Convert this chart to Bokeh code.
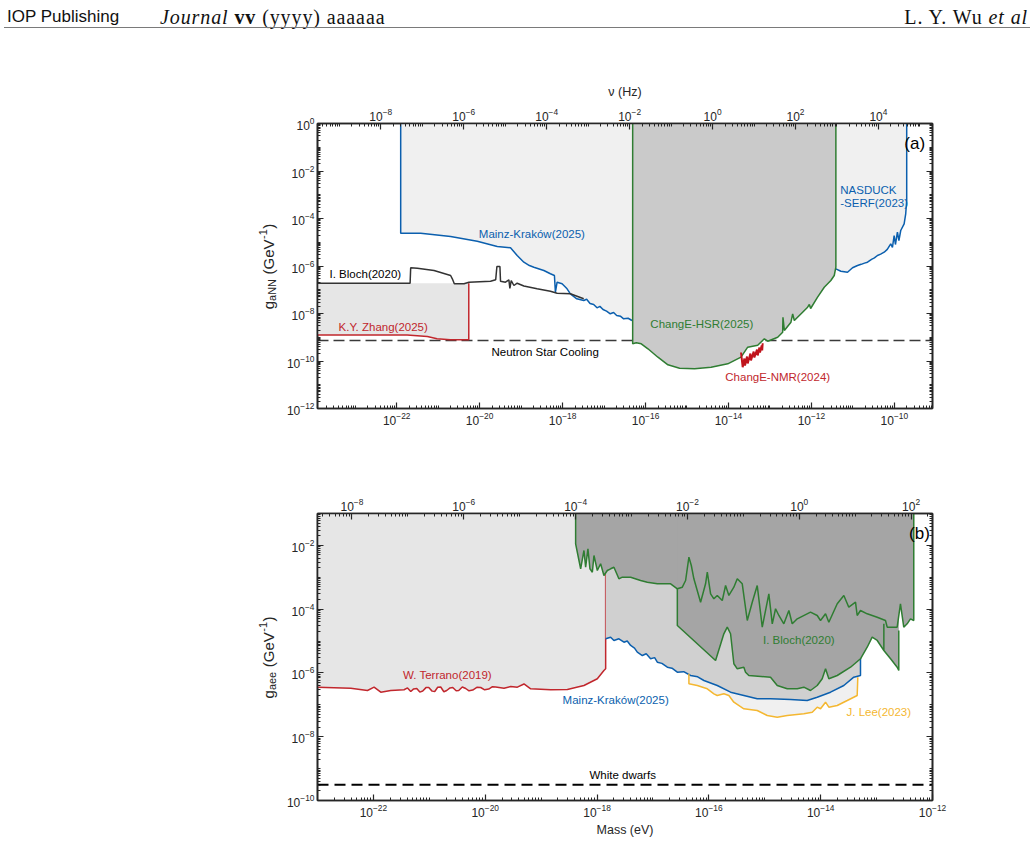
import numpy as np
from bokeh.plotting import figure
from bokeh.models import Range1d, LogScale, LogAxis, FixedTicker, CustomJSTickFormatter, Label, Div
from bokeh.layouts import column
from bokeh.embed import file_html
from bokeh.resources import INLINE

H_EV_S = 4.135667e-15   # eV per Hz (m = h*nu)
LOGH = np.log10(H_EV_S)

# ---------------- panel (a) data : log10 mass [eV], log10 g_aNN [GeV^-1]
a_xlim = (-23.91, -9.08)
a_ylim = (-12.0, 0.0)

mk_a_logm = [-21.904, -21.904, -21.422, -21.141, -20.700, -20.058, -19.576, -19.256, -19.095,
             -18.934, -18.80, -18.693, -18.452, -18.294, -18.197, -18.173, -18.132, -18.012,
             -17.892, -17.812, -17.658, -17.490, -17.42, -17.338, -17.25, -17.170, -17.10,
             -17.025, -16.94, -16.850, -16.77, -16.696, -16.60, -16.527, -16.42, -16.327]
mk_a_logg = [0.0, -4.619, -4.620, -4.674, -4.758, -4.956, -5.179, -5.234, -5.558,
             -5.840, -5.98, -6.051, -6.189, -6.328, -6.400, -7.103, -6.682, -6.749,
             -6.960, -7.171, -7.381, -7.453, -7.40, -7.579, -7.62, -7.760, -7.70,
             -7.832, -7.90, -8.013, -7.96, -8.084, -8.12, -8.223, -8.20, -8.295]

che_logm = [-16.310, -16.310, -16.224, -16.103, -15.942, -15.701, -15.460, -15.179, -14.818,
            -14.419, -14.017, -13.697, -13.536, -13.295, -13.134, -13.054, -12.813, -12.693,
            -12.686, -12.652, -12.493, -12.452, -12.412, -12.212, -12.091, -12.050, -12.019,
            -11.851, -11.690, -11.531, -11.449, -11.410, -11.410]
che_logg = [0.0, -9.276, -9.234, -9.276, -9.486, -9.840, -10.160, -10.303, -10.328,
            -10.261, -10.118, -9.840, -9.419, -9.335, -9.065, -9.166, -8.998, -8.787,
            -8.156, -8.716, -8.366, -8.013, -8.295, -7.945, -7.735, -7.621, -7.789,
            -7.314, -6.893, -6.611, -6.400, -6.051, 0.0]

nas_logm = [-11.410, -11.410, -11.290, -11.129, -11.008, -10.888, -10.80, -10.72, -10.647,
            -10.55, -10.48, -10.407, -10.33, -10.245, -10.17, -10.087, -10.046, -10.005,
            -9.974, -9.926, -9.890, -9.846, -9.764, -9.726, -9.702, -9.702]
nas_logg = [0.0, -6.118, -6.219, -6.261, -6.076, -5.979, -5.93, -5.88, -5.840,
            -5.72, -5.66, -5.558, -5.50, -5.419, -5.30, -5.065, -5.221, -4.716,
            -5.095, -4.577, -4.926, -4.505, -4.223, -3.802, -3.242, 0.0]

kyz_logm = [-23.91, -21.750, -21.261, -21.028, -20.708, -20.262, -20.262]
kyz_logg = [-8.905, -8.905, -8.968, -9.065, -9.107, -9.107, -6.724]

blo_a_logm = [-23.91, -21.677, -21.663, -21.502, -21.100, -20.700, -20.659, -20.611, -20.378,
              -20.258, -19.738, -19.613, -19.584, -19.511, -19.497, -19.377, -19.295, -19.271,
              -19.239, -19.174, -19.095, -18.934, -18.614, -18.294, -18.132, -17.812, -17.490]
blo_a_logg = [-6.724, -6.724, -6.076, -6.093, -6.189, -6.400, -6.539, -6.749, -6.749,
              -6.682, -6.640, -6.581, -6.021, -6.021, -6.640, -6.682, -6.581, -6.947,
              -6.611, -6.821, -6.724, -6.842, -6.960, -7.061, -7.145, -7.171, -7.381]

nmr_logm = [-13.697, -13.657, -13.616, -13.601, -13.553, -13.536, -13.471, -13.457, -13.392,
            -13.375, -13.312, -13.295, -13.254, -13.240, -13.199, -13.187, -13.175]
nmr_logg = [-9.642, -10.261, -9.895, -10.189, -9.811, -10.105, -9.684, -9.979, -9.600,
            -9.853, -9.516, -9.768, -9.432, -9.642, -9.347, -9.558, -9.251]

ns_logg = -9.137

# ---------------- panel (b) data : log10 mass [eV], log10 g_aee [GeV^-1]
b_xlim = (-23.0, -12.0)
b_ylim = (-10.0, -1.0)

ter_logm = [-23.000, -22.405, -22.106, -21.988, -21.868, -21.690, -21.452, -21.39, -21.332,
            -21.28, -21.225, -21.17, -21.118, -21.06, -21.010, -20.95, -20.903, -20.85,
            -20.796, -20.74, -20.689, -20.63, -20.581, -20.52, -20.474, -20.41, -20.349,
            -20.29, -20.224, -20.15, -20.081, -20.01, -19.938, -19.87, -19.813, -19.664,
            -19.544, -19.425, -19.307, -19.187, -18.829, -18.531, -18.234, -17.995, -17.877,
            -17.846, -17.846]
ter_logg = [-6.447, -6.478, -6.550, -6.447, -6.604, -6.550, -6.528, -6.47, -6.582,
            -6.50, -6.488, -6.60, -6.566, -6.46, -6.457, -6.57, -6.582, -6.45,
            -6.441, -6.59, -6.550, -6.47, -6.457, -6.56, -6.550, -6.44, -6.488,
            -6.56, -6.535, -6.45, -6.457, -6.53, -6.504, -6.43, -6.441, -6.478,
            -6.425, -6.447, -6.346, -6.497, -6.528, -6.519, -6.394, -6.183, -5.923,
            -5.870, -1.0]

mk_b_logm = [-17.846, -17.757, -17.698, -17.609, -17.519, -17.46, -17.399, -17.33, -17.280,
             -17.190, -17.12, -17.042, -16.97, -16.922, -16.84, -16.743, -16.66, -16.565,
             -16.45, -16.327, -16.20, -16.089, -15.850, -15.612, -15.374, -15.135, -14.897,
             -14.539, -14.241, -14.062, -13.824, -13.586, -13.408, -13.288, -13.288]
mk_b_logg = [-4.929, -4.879, -4.982, -4.929, -5.036, -5.00, -5.139, -5.22, -5.349,
             -5.453, -5.40, -5.556, -5.52, -5.663, -5.70, -5.820, -5.85, -5.976,
             -5.96, -6.080, -6.12, -6.237, -6.393, -6.604, -6.707, -6.811, -6.811,
             -6.833, -6.864, -6.760, -6.604, -6.393, -6.133, -6.080, -1.0]

jl_logm = [-16.357, -16.357, -16.207, -16.028, -15.910, -15.850, -15.732, -15.642, -15.553,
           -15.374, -15.135, -14.956, -14.777, -14.598, -14.301, -14.151, -14.062, -14.003,
           -13.913, -13.854, -13.704, -13.525, -13.347, -13.336]
jl_logg = [-6.027, -6.340, -6.393, -6.497, -6.654, -6.707, -6.654, -6.707, -6.917,
           -7.124, -7.177, -7.334, -7.388, -7.334, -7.281, -7.231, -7.074, -7.124,
           -6.917, -7.074, -7.021, -6.864, -6.707, -6.133]

blu_logm = [-18.383, -18.383, -18.323, -18.293, -18.234, -18.204, -18.163, -18.127, -18.084,
            -18.055, -17.995, -17.936, -17.877, -17.816, -17.757, -17.698, -17.609, -17.548,
            -17.399, -17.221, -17.101, -16.922, -16.684, -16.564, -16.475, -16.416, -16.357,
            -16.314, -16.268, -16.148, -16.059, -16.028, -15.969, -15.910, -15.850, -15.760,
            -15.701, -15.642, -15.553, -15.492, -15.403, -15.313, -15.224, -15.135, -15.045,
            -14.927, -14.866, -14.807, -14.748, -14.659, -14.569, -14.509, -14.419, -14.182,
            -14.062, -14.003, -13.913, -13.854, -13.704, -13.586, -13.497, -13.377, -13.347,
            -13.288, -13.168, -12.989, -12.841, -12.810, -12.632, -12.573, -12.514, -12.453,
            -12.394, -12.335, -12.335]
blu_logg = [-1.0, -1.950, -2.474, -2.734, -2.160, -2.684, -2.107, -2.734, -2.841,
            -2.317, -2.787, -2.577, -2.944, -2.787, -2.734, -2.684, -3.048, -2.997,
            -2.997, -3.101, -3.154, -3.204, -3.204, -3.361, -3.311, -3.101, -2.370,
            -2.631, -3.048, -3.781, -3.204, -2.841, -3.518, -3.675, -3.571, -3.728,
            -3.258, -3.571, -3.311, -3.048, -3.204, -4.355, -3.781, -3.258, -4.565,
            -3.518, -4.459, -3.988, -4.198, -4.459, -4.042, -4.459, -4.302, -4.095,
            -4.198, -4.355, -4.146, -4.409, -3.832, -3.571, -3.938, -3.781, -4.198,
            -4.042, -4.146, -4.252, -4.355, -4.565, -4.565, -3.832, -4.565, -4.459,
            -4.302, -4.355, -1.0]

bll_logm = [-16.564, -16.564, -15.880, -15.732, -15.671, -15.612, -15.553, -15.492, -15.374,
            -15.344, -15.285, -14.897, -14.777, -14.598, -14.419, -14.301, -14.182, -14.062,
            -13.973, -13.913, -13.854, -13.704, -13.466, -13.288, -13.168, -13.079, -12.989,
            -12.870, -12.870, -12.870, -12.750, -12.632, -12.603, -12.603]
bll_logg = [-3.361, -4.512, -5.610, -4.772, -4.565, -4.772, -5.713, -5.870, -5.820,
            -5.976, -6.080, -6.133, -6.393, -6.497, -6.497, -6.447, -6.550, -6.393,
            -6.183, -5.870, -6.183, -6.080, -5.820, -5.556, -5.193, -4.879, -4.982,
            -5.296, -4.459, -5.296, -5.556, -5.820, -5.923, -4.669]

wd_logg = -9.507

# ---------------- colours
BLUE = "#0b5fae"
GREEN = "#2f7d32"
RED = "#c1272d"
YELLOW = "#f4b731"
INK = "#262626"
FONT = "Liberation Sans"


def p10(a):
    return [10.0 ** v for v in a]


def ticks(lo, hi, first, last):
    majors = [10.0 ** k for k in range(first, last + 1, 2)]
    minors = []
    for k in range(int(np.floor(lo)) - 1, int(np.ceil(hi)) + 1):
        for mnt in range(1, 10):
            v = mnt * 10.0 ** k
            if lo <= np.log10(v) <= hi and not any(abs(v / mj - 1) < 1e-9 for mj in majors):
                minors.append(v)
    return FixedTicker(ticks=majors, minor_ticks=minors)


def style(ax, labels=True):
    ax.axis_line_color = INK
    ax.axis_line_width = 1.6
    ax.major_tick_in = 6
    ax.major_tick_out = 0
    ax.minor_tick_in = 3
    ax.minor_tick_out = 0
    ax.major_tick_line_color = INK
    ax.minor_tick_line_color = INK
    ax.major_tick_line_width = 1.2
    ax.minor_tick_line_width = 1.0
    ax.major_label_text_font = FONT
    ax.major_label_text_font_size = "12px"
    ax.major_label_text_color = INK
    ax.major_label_standoff = 3
    ax.axis_label_text_font = FONT
    ax.axis_label_text_font_size = "12.5px"
    ax.axis_label_text_font_style = "normal"
    ax.axis_label_text_color = INK
    if not labels:
        ax.formatter = CustomJSTickFormatter(code="return '';")


def make_panel(xlim, ylim, yt, xt, nut, ftop, fh, fbot):
    p = figure(x_axis_type="log", y_axis_type="log",
               x_range=Range1d(10 ** xlim[0], 10 ** xlim[1]),
               y_range=Range1d(10 ** ylim[0], 10 ** ylim[1]),
               frame_width=615, frame_height=fh,
               min_border_left=317, min_border_right=102,
               min_border_top=ftop, min_border_bottom=fbot,
               output_backend="svg", toolbar_location=None)
    p.grid.visible = False
    p.outline_line_color = INK
    p.outline_line_width = 1.6
    p.background_fill_color = "white"
    p.border_fill_color = "white"
    p.below[0].ticker = ticks(xlim[0], xlim[1], xt[0], xt[1])
    p.left[0].ticker = ticks(ylim[0], ylim[1], yt[0], yt[1])
    style(p.below[0])
    style(p.left[0])
    nlo, nhi = xlim[0] - LOGH, xlim[1] - LOGH
    p.extra_x_ranges = {"nu": Range1d(10 ** nlo, 10 ** nhi)}
    p.extra_x_scales = {"nu": LogScale()}
    top = LogAxis(x_range_name="nu", ticker=ticks(nlo, nhi, nut[0], nut[1]))
    style(top)
    p.add_layout(top, "above")
    right = LogAxis(ticker=ticks(ylim[0], ylim[1], yt[0], yt[1]))
    style(right, labels=False)
    p.add_layout(right, "right")
    return p, top


def lab(p, x, y, text, color, size="11.5px", align="center", baseline="middle"):
    p.add_layout(Label(x=10 ** x, y=10 ** y, text=text, text_color=color,
                       text_font=FONT, text_font_size=size, text_align=align,
                       text_baseline=baseline))


def ylabel(p, xlim, yc_log, sub):
    # composite rotated label  g_sub (GeV^-1), placed in the left side panel
    # (text, font px, baseline shift px, gap before px)
    pieces = [("g", 15, 0, 0), (sub, 11, 3, 0), ("(GeV", 15, 0, 4.5), ("-1", 11, -6, 0.5), (")", 15, 0, 0.5)]
    adv = {"g": 0.556, "a": 0.556, "N": 0.722, "e": 0.556, "(": 0.333,
           "G": 0.778, "V": 0.667, "-": 0.333, "1": 0.556, ")": 0.333}
    widths = [sum(adv[c] for c in t) * s for t, s, _, _ in pieces]
    total = sum(widths) + sum(g for *_, g in pieces)
    off = -total / 2
    for (t, s, dx, gap), w in zip(pieces, widths):
        off += gap
        p.add_layout(Label(x=10 ** xlim[0], y=10 ** yc_log, x_offset=-49 + dx, y_offset=off,
                           text=t, angle=np.pi / 2, text_font=FONT, text_font_size=f"{s}px",
                           text_color=INK, text_align="left", text_baseline="alphabetic"),
                     "left")
        off += w


# ================= header (page running head)
head_html = (
    '<div style="position:relative;width:1034px;height:40px;margin:0;padding:0;color:#111;">'
    '<span style="position:absolute;left:7px;top:5px;font-family:\'Liberation Sans\';font-size:17px;white-space:nowrap;">IOP Publishing</span>'
    '<span style="position:absolute;left:160px;top:3px;font-family:\'Liberation Serif\';font-size:20px;letter-spacing:0.9px;white-space:nowrap;">'
    '<i>Journal</i> <b>vv</b> (yyyy) aaaaaa</span>'
    '<span style="position:absolute;right:6px;top:3px;font-family:\'Liberation Serif\';font-size:20px;letter-spacing:0.9px;white-space:nowrap;">'
    'L. Y. Wu <i>et al</i></span>'
    '<div style="position:absolute;left:4px;top:27px;width:1026px;height:0;border-top:1px solid #7a7a7a;"></div>'
    '</div>'
)
hdr = Div(text=head_html, width=1034, height=40, margin=(0, 0, 0, 0))

# ================= panel (a)
pa, topa = make_panel(a_xlim, a_ylim, (-12, 0), (-22, -10), (-8, 4), 83, 285, 42)
topa.axis_label = "\u03bd (Hz)"
topa.axis_label_standoff = 6

pa.line(p10(list(a_xlim)), [10 ** ns_logg] * 2, line_color="#3a3a3a", line_width=1.6, line_dash="11 5")
pa.patch(p10(mk_a_logm + [mk_a_logm[-1]]), p10(mk_a_logg + [0.0]), fill_color="#f0f0f0", line_color=None)
pa.line(p10(mk_a_logm), p10(mk_a_logg), line_color=BLUE, line_width=1.5)
pa.patch(p10(nas_logm), p10(nas_logg), fill_color="#f0f0f0", line_color=None)
pa.line(p10(nas_logm[1:]), p10(nas_logg[1:]), line_color=BLUE, line_width=1.5)
pa.patch(p10(che_logm), p10(che_logg), fill_color="#cacaca", line_color=None)
pa.line(p10(che_logm), p10(che_logg), line_color=GREEN, line_width=1.5)
pa.patch(p10(kyz_logm + [a_xlim[0]]), p10(kyz_logg + [kyz_logg[-1]]), fill_color="#e6e6e6", line_color=None)
pa.line(p10(kyz_logm), p10(kyz_logg), line_color=RED, line_width=1.5)
pa.line(p10(blo_a_logm), p10(blo_a_logg), line_color="#333333", line_width=1.5)
pa.line(p10(nmr_logm), p10(nmr_logg), line_color="#c0141c", line_width=2)

lab(pa, -18.741, -4.632, "Mainz-Krak\u00f3w(2025)", BLUE)
lab(pa, -11.304, -2.779, "NASDUCK", BLUE, align="left")
lab(pa, -11.304, -3.368, "-SERF(2023)", BLUE, align="left")
lab(pa, -23.620, -6.316, "I. Bloch(2020)", "black", align="left")
lab(pa, -23.403, -8.589, "K.Y. Zhang(2025)", RED, align="left")
lab(pa, -18.421, -9.642, "Neutron Star Cooling", "black")
lab(pa, -14.643, -8.463, "ChangE-HSR(2025)", GREEN)
lab(pa, -12.813, -10.653, "ChangE-NMR(2024)", RED)
lab(pa, -9.509, -0.855, "(a)", "black", size="17px")
ylabel(pa, a_xlim, -6.02, "aNN")

# ================= panel (b)
pb, topb = make_panel(b_xlim, b_ylim, (-10, -2), (-22, -12), (-8, 2), 63, 287, 46)
pb.below[0].axis_label = "Mass (eV)"
pb.below[0].axis_label_standoff = 3

pb.line(p10(list(b_xlim)), [10 ** wd_logg] * 2, line_color="black", line_width=2, line_dash="11 6")
pb.patch(p10(ter_logm + [b_xlim[0]]), p10(ter_logg + [-1.0]), fill_color="#e6e6e6", line_color=None)
pb.line(p10(ter_logm), p10(ter_logg), line_color=RED, line_width=1.5)
pb.patch(p10(jl_logm + [jl_logm[-1], jl_logm[0]]), p10(jl_logg + [-1.0, -1.0]), fill_color="#f0f0f0", line_color=None)
pb.patch(p10([mk_b_logm[0]] + mk_b_logm), p10([-1.0] + mk_b_logg), fill_color="#d0d0d0", line_color=None)
pb.line(p10(mk_b_logm), p10(mk_b_logg), line_color=BLUE, line_width=1.5)
pb.line(p10(jl_logm), p10(jl_logg), line_color=YELLOW, line_width=1.5)
pb.patch(p10(blu_logm), p10(blu_logg), fill_color="#a5a5a5", line_color=None)
pb.patch(p10([bll_logm[0]] + bll_logm + [bll_logm[-1]]), p10([-1.0] + bll_logg + [-1.0]),
         fill_color="#a5a5a5", line_color=None)
pb.line(p10(blu_logm), p10(blu_logg), line_color=GREEN, line_width=1.5)
pb.line(p10(bll_logm), p10(bll_logg), line_color=GREEN, line_width=1.5)

lab(pb, -20.676, -6.049, "W. Terrano(2019)", RED)
lab(pb, -17.667, -6.864, "Mainz-Krak\u00f3w(2025)", BLUE)
lab(pb, -14.391, -4.982, "I. Bloch(2020)", GREEN)
lab(pb, -12.961, -7.231, "J. Lee(2023)", YELLOW)
lab(pb, -17.542, -9.216, "White dwarfs", "black")
lab(pb, -12.233, -1.627, "(b)", "black", size="17px")
ylabel(pb, b_xlim, -5.515, "aee")

layout = column(hdr, pa, pb)
open("out.html", "w").write(file_html(layout, INLINE))
